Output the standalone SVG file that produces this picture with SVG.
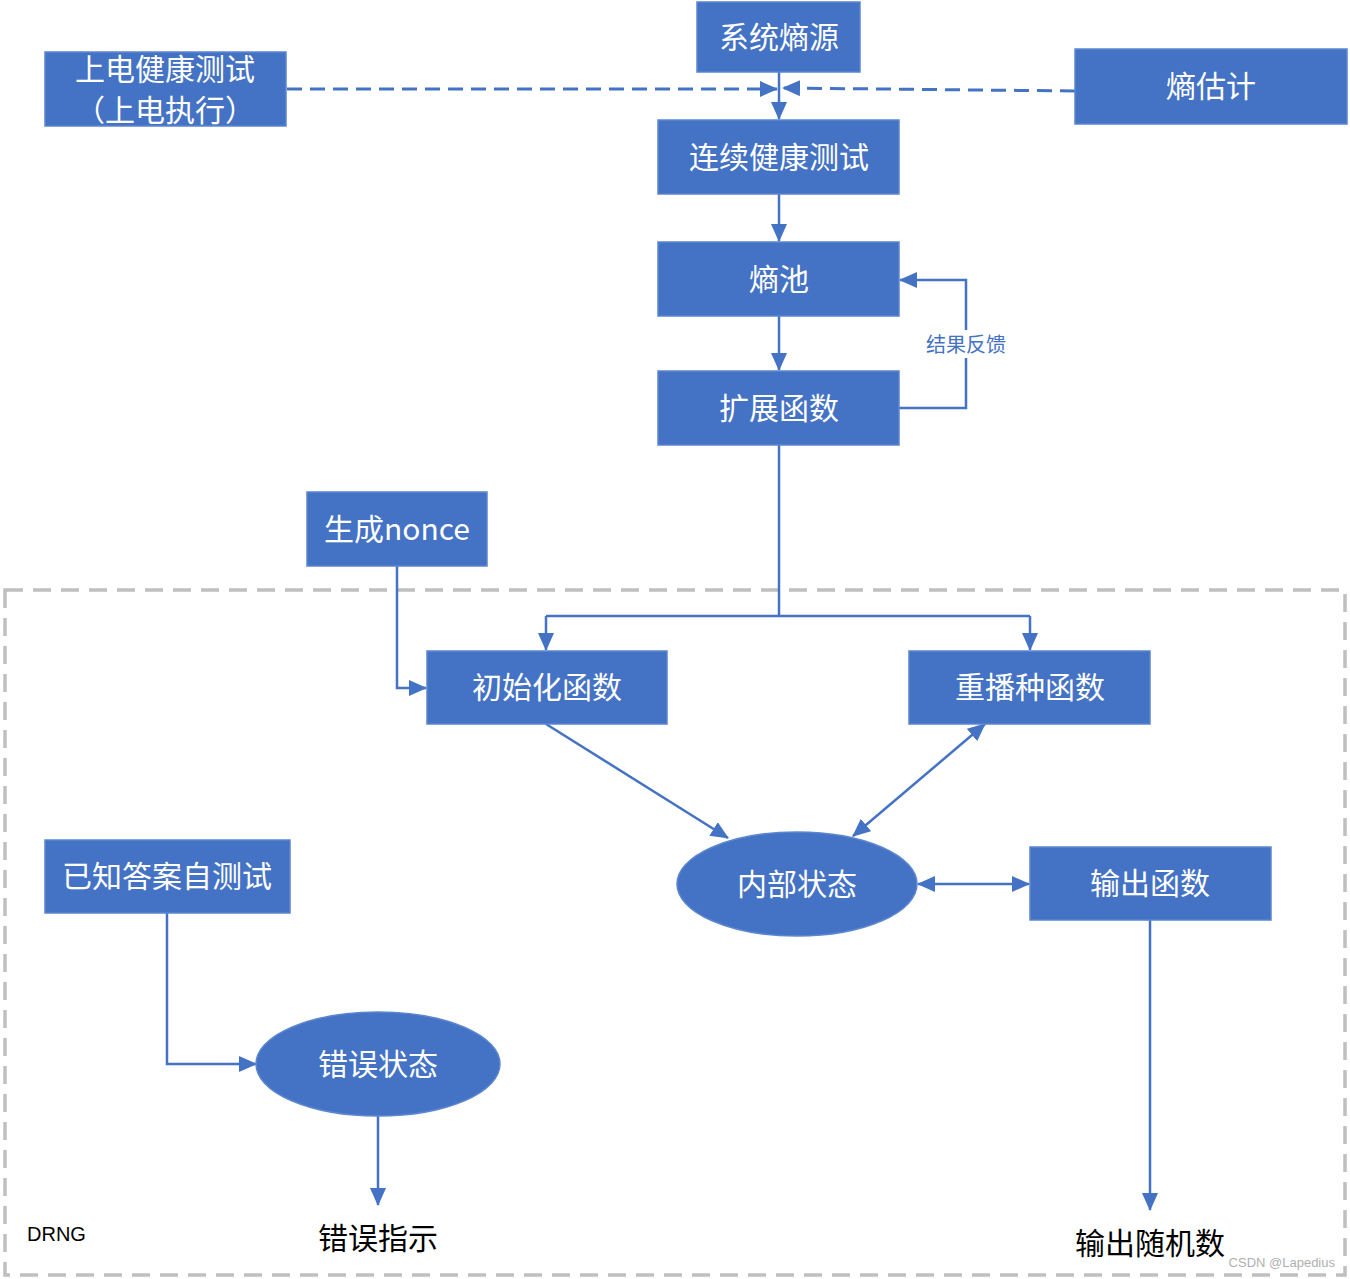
<svg xmlns="http://www.w3.org/2000/svg" width="1350" height="1279" viewBox="0 0 1350 1279">
<defs>
<marker id="arr" markerUnits="userSpaceOnUse" markerWidth="18" markerHeight="16" refX="17" refY="8" orient="auto">
<path d="M0,0 L18,8 L0,16 Z" fill="#4472C4"/>
</marker>
<marker id="arrs" markerUnits="userSpaceOnUse" markerWidth="18" markerHeight="16" refX="1" refY="8" orient="auto">
<path d="M18,0 L0,8 L18,16 Z" fill="#4472C4"/>
</marker>
</defs>
<style>
.box{fill:#4472C4;stroke:#5B86D0;stroke-width:1.5}
.t{fill:#FFFFFF;font-family:"Noto Sans CJK SC","Microsoft YaHei",sans-serif;font-size:30px;text-anchor:middle;dominant-baseline:central}
.ln{fill:none;stroke:#4472C4;stroke-width:2.5}
.dl{fill:none;stroke:#4472C4;stroke-width:3;stroke-dasharray:15,8}
.k{fill:#000000;font-family:"Noto Sans CJK SC",sans-serif;font-size:30px;text-anchor:middle;dominant-baseline:central}
</style>
<rect x="5" y="590" width="1340" height="685" fill="none" stroke="#BFBFBF" stroke-width="3.5" stroke-dasharray="18,10"/>
<g id="connectors">
<path class="ln" d="M779,72 V119" marker-end="url(#arr)"/>
<path class="dl" d="M287,89 H777" marker-end="url(#arr)"/>
<path class="dl" d="M1075,91 L783,88" marker-end="url(#arr)"/>
<path class="ln" d="M779,194 V241" marker-end="url(#arr)"/>
<path class="ln" d="M779,316 V370" marker-end="url(#arr)"/>
<path class="ln" d="M899,408 H966 V280 H900" marker-end="url(#arr)"/>
<rect x="922" y="330" width="90" height="28" fill="#FFFFFF"/>
<text x="966" y="343" style="fill:#4472C4;font-family:'Noto Sans CJK SC',sans-serif;font-size:20px;text-anchor:middle;dominant-baseline:central">结果反馈</text>
<path class="ln" d="M779,445 V616"/>
<path class="ln" d="M546,616 H1030"/>
<path class="ln" d="M546,616 V650" marker-end="url(#arr)"/>
<path class="ln" d="M1030,616 V650" marker-end="url(#arr)"/>
<path class="ln" d="M397,566 V688 H426" marker-end="url(#arr)"/>
<path class="ln" d="M546,724 L728,838" marker-end="url(#arr)"/>
<path class="ln" d="M853,836 L985,724" marker-start="url(#arrs)" marker-end="url(#arr)"/>
<path class="ln" d="M918,884 H1029" marker-start="url(#arrs)" marker-end="url(#arr)"/>
<path class="ln" d="M167,913 V1064 H256" marker-end="url(#arr)"/>
<path class="ln" d="M378,1116 V1205" marker-end="url(#arr)"/>
<path class="ln" d="M1150,920 V1210" marker-end="url(#arr)"/>
</g>
<g id="n-source"><rect class="box" x="697" y="2" width="163" height="70"/><text class="t" x="779" y="35">系统熵源</text></g>
<g id="n-poweron"><rect class="box" x="45" y="52" width="241" height="74"/><text class="t" x="165" y="67">上电健康测试</text><text class="t" x="165" y="108">（上电执行）</text></g>
<g id="n-estimate"><rect class="box" x="1075" y="49" width="272" height="75"/><text class="t" x="1211" y="84">熵估计</text></g>
<g id="n-continuous"><rect class="box" x="658" y="120" width="241" height="74"/><text class="t" x="779" y="155">连续健康测试</text></g>
<g id="n-pool"><rect class="box" x="658" y="242" width="241" height="74"/><text class="t" x="779" y="277">熵池</text></g>
<g id="n-expand"><rect class="box" x="658" y="371" width="241" height="74"/><text class="t" x="779" y="406">扩展函数</text></g>
<g id="n-nonce"><rect class="box" x="307" y="492" width="180" height="74"/><text class="t" x="397" y="527">生成nonce</text></g>
<g id="n-init"><rect class="box" x="427" y="651" width="240" height="73"/><text class="t" x="547" y="685">初始化函数</text></g>
<g id="n-reseed"><rect class="box" x="909" y="651" width="241" height="73"/><text class="t" x="1030" y="685">重播种函数</text></g>
<g id="n-internal"><ellipse cx="797" cy="884" rx="120" ry="52" fill="#4472C4" stroke="#5B86D0" stroke-width="1.5"/><text class="t" x="797" y="882">内部状态</text></g>
<g id="n-output"><rect class="box" x="1030" y="847" width="241" height="73"/><text class="t" x="1150" y="881">输出函数</text></g>
<g id="n-kat"><rect class="box" x="45" y="840" width="245" height="73"/><text class="t" x="167" y="874">已知答案自测试</text></g>
<g id="n-error"><ellipse cx="378" cy="1064" rx="122" ry="52" fill="#4472C4" stroke="#5B86D0" stroke-width="1.5"/><text class="t" x="378" y="1062">错误状态</text></g>
<g id="labels">
<text x="27" y="1234" style="fill:#000000;font-family:'Liberation Sans',sans-serif;font-size:20px;dominant-baseline:central">DRNG</text>
<text class="k" x="378" y="1236">错误指示</text>
<text class="k" x="1150" y="1241">输出随机数</text>
<text x="1335" y="1262" style="fill:#B0B0B0;font-family:'Liberation Sans',sans-serif;font-size:13px;text-anchor:end;dominant-baseline:central">CSDN @Lapedius</text>
</g>
</svg>
